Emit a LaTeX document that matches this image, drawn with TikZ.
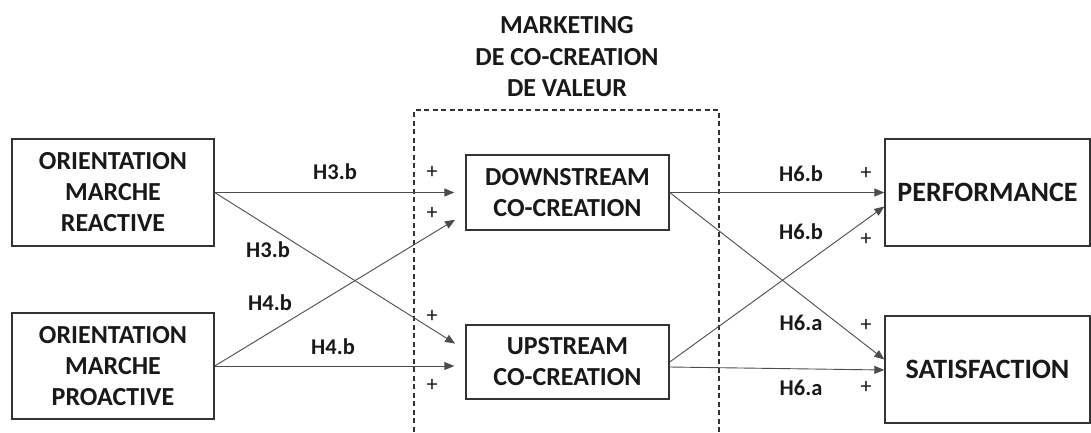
\documentclass[tikz,border=0pt]{standalone}
\usepackage{fontspec}
\setmainfont{Carlito}
\usetikzlibrary{arrows.meta}
\tikzset{
  box/.style={draw=black!80, line width=1.4pt, align=center, inner sep=0pt,
    font=\bfseries\fontsize{26}{31}\selectfont, text=black!90},
  arr/.style={draw=black!70, line width=0.9pt, -{Triangle[length=10pt,width=8pt]}},
  hlab/.style={font=\bfseries\fontsize{22.5}{26}\selectfont, text=black!90},
  plus/.style={font=\fontsize{22}{24}\selectfont, text=black!90},
  grp/.style={draw=black!80, line width=1.3pt, dash pattern=on 5pt off 3.5pt}
}
\begin{document}
\begin{tikzpicture}[x=1pt,y=-1pt]
\useasboundingbox (0,0) rectangle (1091,432);
% title
\node[font=\bfseries\fontsize{26}{31.5}\selectfont, text=black!90, align=center] (title) at (567,57) {MARKETING\\DE CO-CREATION\\DE VALEUR};
% dashed group
\draw[grp] (414,440) -- (414,110) -- (719,110) -- (719,440);
% boxes
\node[box, minimum width=202pt, minimum height=107pt] (reac) at (113,192.5) {ORIENTATION\\MARCHE\\REACTIVE};
\node[box, minimum width=202pt, minimum height=106pt] (proa) at (113,366) {ORIENTATION\\MARCHE\\PROACTIVE};
\node[box, minimum width=203pt, minimum height=75pt] (down) at (567.5,192.5) {DOWNSTREAM\\CO-CREATION};
\node[box, minimum width=203pt, minimum height=74pt] (up) at (567.5,362) {UPSTREAM\\CO-CREATION};
\node[box, minimum width=205pt, minimum height=107pt, font=\bfseries\fontsize{28}{31}\selectfont] (perf) at (987.5,192.5) {PERFORMANCE};
\node[box, minimum width=205pt, minimum height=107pt, font=\bfseries\fontsize{28}{31}\selectfont] (sat) at (987.5,369.5) {SATISFACTION};
% left arrows
\draw[arr, shorten >=11pt] (reac.east) -- (down.west);
\draw[arr, shorten >=12pt] (reac.east) -- ([yshift=12pt]up.west);
\draw[arr, shorten >=12pt] (proa.east) -- ([yshift=-21pt]down.west);
\draw[arr, shorten >=11pt] (proa.east) -- ([yshift=-4pt]up.west);
% right arrows
\draw[arr] (down.east) -- (perf.west);
\draw[arr] (down.east) -- ([yshift=10pt]sat.west);
\draw[arr] ([yshift=0pt]up.east) -- ([yshift=-14pt]perf.west);
\draw[arr] ([yshift=-5pt]up.east) -- ([yshift=-0.5pt]sat.west);
% labels
\node[hlab] (l1) at (335,172) {H3.b};
\node[hlab] (l2) at (268,250) {H3.b};
\node[hlab] (l3) at (270,303) {H4.b};
\node[hlab] (l4) at (333,347) {H4.b};
\node[hlab] (l5) at (801,174) {H6.b};
\node[hlab] (l6) at (801,232) {H6.b};
\node[hlab] (l7) at (801,323) {H6.a};
\node[hlab] (l8) at (801,388) {H6.a};
\node[plus] (p1) at (432,172) {+};
\node[plus] (p2) at (432,213) {+};
\node[plus] (p3) at (432,316) {+};
\node[plus] (p4) at (432,385) {+};
\node[plus] (p5) at (866,173) {+};
\node[plus] (p6) at (866,239) {+};
\node[plus] (p7) at (866,325) {+};
\node[plus] (p8) at (866,387) {+};
\end{tikzpicture}
\end{document}
